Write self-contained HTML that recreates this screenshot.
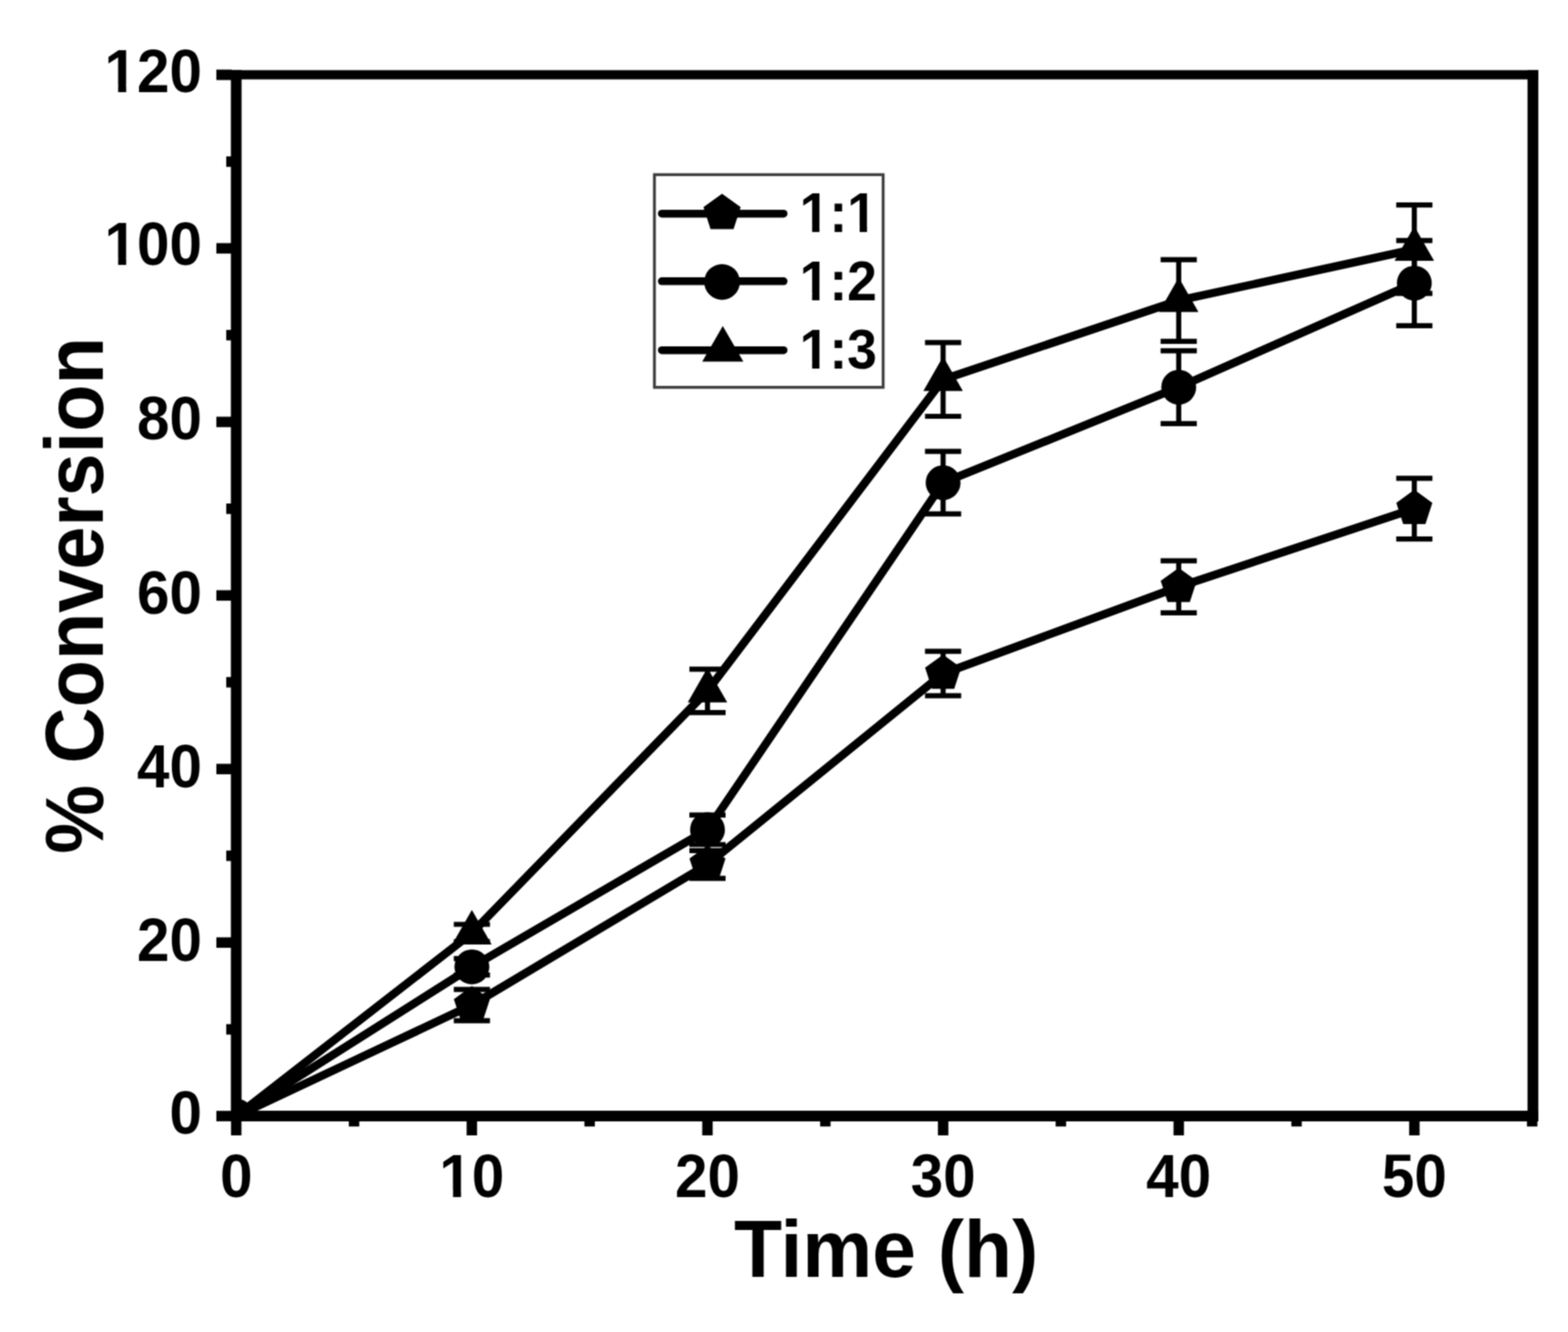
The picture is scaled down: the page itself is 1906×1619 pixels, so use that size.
<!DOCTYPE html>
<html><head><meta charset="utf-8"><title>% Conversion vs Time</title>
<style>
html,body{margin:0;padding:0;background:#fff;}
body{width:1906px;height:1619px;overflow:hidden;}
svg{display:block;}
text{font-family:"Liberation Sans",Arial,sans-serif;font-weight:bold;fill:#000;}
.tl{font-size:71px;}
.ax{font-size:95.6px;}
.ax2{font-size:94.2px;}
.lg{font-size:65px;}
</style></head>
<body>
<svg width="1906" height="1619" viewBox="0 0 1906 1619">
<defs><filter id="soft" x="0" y="0" width="1906" height="1619" filterUnits="userSpaceOnUse" color-interpolation-filters="sRGB"><feConvolveMatrix order="3" kernelMatrix="1 2 1 2 4 2 1 2 1" divisor="16" edgeMode="duplicate"/></filter></defs>
<g filter="url(#soft)">
<rect width="1906" height="1619" fill="#fff"/>
<g fill="#000">
<rect x="280.8" y="85.3" width="1589.1" height="11.2"/>
<rect x="280.8" y="1350.2" width="1589.1" height="12.8"/>
<rect x="280.8" y="85.3" width="12.6" height="1277.7"/>
<rect x="1856.8" y="85.3" width="13.1" height="1277.7"/>
<rect x="263" y="1350.2" width="18.8" height="12.7"/>
<rect x="275" y="1244.8" width="6.8" height="12.7"/>
<rect x="263" y="1139.3" width="18.8" height="12.7"/>
<rect x="275" y="1033.8" width="6.8" height="12.7"/>
<rect x="263" y="928.4" width="18.8" height="12.7"/>
<rect x="275" y="822.9" width="6.8" height="12.7"/>
<rect x="263" y="717.4" width="18.8" height="12.7"/>
<rect x="275" y="612.0" width="6.8" height="12.7"/>
<rect x="263" y="506.5" width="18.8" height="12.7"/>
<rect x="275" y="401.0" width="6.8" height="12.7"/>
<rect x="263" y="295.5" width="18.8" height="12.7"/>
<rect x="275" y="190.1" width="6.8" height="12.7"/>
<rect x="263" y="84.6" width="18.8" height="12.7"/>
<rect x="280.8" y="1362.0" width="12.7" height="18.0"/>
<rect x="424.0" y="1362.0" width="12.7" height="7.2"/>
<rect x="567.2" y="1362.0" width="12.7" height="18.0"/>
<rect x="710.4" y="1362.0" width="12.7" height="7.2"/>
<rect x="853.6" y="1362.0" width="12.7" height="18.0"/>
<rect x="996.9" y="1362.0" width="12.7" height="7.2"/>
<rect x="1140.1" y="1362.0" width="12.7" height="18.0"/>
<rect x="1283.2" y="1362.0" width="12.7" height="7.2"/>
<rect x="1426.5" y="1362.0" width="12.7" height="18.0"/>
<rect x="1569.7" y="1362.0" width="12.7" height="7.2"/>
<rect x="1712.9" y="1362.0" width="12.7" height="18.0"/>
<rect x="1856.1" y="1362.0" width="12.7" height="7.2"/>
<clipPath id="pc"><rect x="287.1" y="0" width="1600" height="1356.6"/></clipPath><g clip-path="url(#pc)">
<polyline points="287.2,1356.6 573.6,1221.6 860.0,1050.7 1146.4,818.7 1432.8,713.2 1719.2,618.3" fill="none" stroke="#000" stroke-width="10" stroke-linejoin="round"/>
<path d="M573.6 1202.6V1240.6M551.6 1202.6H595.6M551.6 1240.6H595.6" stroke="#000" stroke-width="6.2" fill="none"/>
<path d="M860.0 1033.9V1067.6M838.0 1033.9H882.0M838.0 1067.6H882.0" stroke="#000" stroke-width="6.2" fill="none"/>
<path d="M1146.4 791.7V845.7M1124.4 791.7H1168.4M1124.4 845.7H1168.4" stroke="#000" stroke-width="6.2" fill="none"/>
<path d="M1432.8 681.6V744.9M1410.8 681.6H1454.8M1410.8 744.9H1454.8" stroke="#000" stroke-width="6.2" fill="none"/>
<path d="M1719.2 581.4V655.2M1697.2 581.4H1741.2M1697.2 655.2H1741.2" stroke="#000" stroke-width="6.2" fill="none"/>
<polygon points="287.2,1333.6 309.1,1349.5 300.7,1375.2 273.7,1375.2 265.3,1349.5"/>
<polygon points="573.6,1198.6 595.5,1214.5 587.1,1240.2 560.1,1240.2 551.7,1214.5"/>
<polygon points="860.0,1027.7 881.9,1043.6 873.5,1069.3 846.5,1069.3 838.1,1043.6"/>
<polygon points="1146.4,795.7 1168.3,811.6 1159.9,837.3 1132.9,837.3 1124.5,811.6"/>
<polygon points="1432.8,690.2 1454.7,706.1 1446.3,731.8 1419.3,731.8 1410.9,706.1"/>
<polygon points="1719.2,595.3 1741.1,611.2 1732.7,636.9 1705.7,636.9 1697.3,611.2"/>
<polyline points="287.2,1356.6 573.6,1175.2 860.0,1008.5 1146.4,586.7 1432.8,470.7 1719.2,344.1" fill="none" stroke="#000" stroke-width="10" stroke-linejoin="round"/>
<path d="M573.6 1165.2V1185.2M551.6 1165.2H595.6M551.6 1185.2H595.6" stroke="#000" stroke-width="6.2" fill="none"/>
<path d="M860.0 990.6V1026.5M838.0 990.6H882.0M838.0 1026.5H882.0" stroke="#000" stroke-width="6.2" fill="none"/>
<path d="M1146.4 548.7V624.6M1124.4 548.7H1168.4M1124.4 624.6H1168.4" stroke="#000" stroke-width="6.2" fill="none"/>
<path d="M1432.8 426.4V514.9M1410.8 426.4H1454.8M1410.8 514.9H1454.8" stroke="#000" stroke-width="6.2" fill="none"/>
<path d="M1719.2 292.4V395.8M1697.2 292.4H1741.2M1697.2 395.8H1741.2" stroke="#000" stroke-width="6.2" fill="none"/>
<circle cx="287.2" cy="1356.6" r="21.2"/>
<circle cx="573.6" cy="1175.2" r="21.2"/>
<circle cx="860.0" cy="1008.5" r="21.2"/>
<circle cx="1146.4" cy="586.7" r="21.2"/>
<circle cx="1432.8" cy="470.7" r="21.2"/>
<circle cx="1719.2" cy="344.1" r="21.2"/>
<polyline points="287.2,1356.6 573.6,1134.1 860.0,839.8 1146.4,461.2 1432.8,365.2 1719.2,303.0" fill="none" stroke="#000" stroke-width="10" stroke-linejoin="round"/>
<path d="M573.6 1123.5V1144.6M551.6 1123.5H595.6M551.6 1144.6H595.6" stroke="#000" stroke-width="6.2" fill="none"/>
<path d="M860.0 813.4V866.2M838.0 813.4H882.0M838.0 866.2H882.0" stroke="#000" stroke-width="6.2" fill="none"/>
<path d="M1146.4 416.3V506.0M1124.4 416.3H1168.4M1124.4 506.0H1168.4" stroke="#000" stroke-width="6.2" fill="none"/>
<path d="M1432.8 315.6V414.8M1410.8 315.6H1454.8M1410.8 414.8H1454.8" stroke="#000" stroke-width="6.2" fill="none"/>
<path d="M1719.2 249.2V356.7M1697.2 249.2H1741.2M1697.2 356.7H1741.2" stroke="#000" stroke-width="6.2" fill="none"/>
<polygon points="287.2,1328.6 311.2,1370.6 263.2,1370.6"/>
<polygon points="573.6,1106.1 597.6,1148.1 549.6,1148.1"/>
<polygon points="860.0,811.8 884.0,853.8 836.0,853.8"/>
<polygon points="1146.4,433.2 1170.4,475.2 1122.4,475.2"/>
<polygon points="1432.8,337.2 1456.8,379.2 1408.8,379.2"/>
<polygon points="1719.2,275.0 1743.2,317.0 1695.2,317.0"/>
</g>
<rect x="280.8" y="1350.2" width="1589.1" height="12.8"/>
<rect x="280.8" y="85.3" width="12.6" height="1277.7"/>
<rect x="795.5" y="212.3" width="278" height="258.5" fill="#fff" stroke="#3c3c3c" stroke-width="3.5"/>
<line x1="804.5" y1="259.7" x2="952.5" y2="259.7" stroke="#000" stroke-width="9.5" stroke-linecap="round"/>
<polygon points="877.7,235.4 900.3,251.8 891.7,278.5 863.7,278.5 855.1,251.8"/>
<line x1="804.5" y1="341.8" x2="952.5" y2="341.8" stroke="#000" stroke-width="9.5" stroke-linecap="round"/>
<circle cx="877.7" cy="342.7" r="21.7"/>
<line x1="804.5" y1="425.7" x2="952.5" y2="425.7" stroke="#000" stroke-width="9.5" stroke-linecap="round"/>
<polygon points="878.6,396.3 903.6,439.6 853.6,439.6"/>
</g>
<text transform="translate(245.5 1377.5) scale(1 1.05)" text-anchor="end" class="tl">0</text>
<text transform="translate(245.5 1167.7) scale(1 1.05)" text-anchor="end" class="tl">20</text>
<text transform="translate(245.5 956.7) scale(1 1.05)" text-anchor="end" class="tl">40</text>
<text transform="translate(245.5 745.5) scale(1 1.05)" text-anchor="end" class="tl">60</text>
<text transform="translate(245.5 534.0) scale(1 1.05)" text-anchor="end" class="tl">80</text>
<text transform="translate(245.5 322.3) scale(1 1.05)" text-anchor="end" class="tl">100</text>
<text transform="translate(245.5 112.0) scale(1 1.05)" text-anchor="end" class="tl">120</text>
<text transform="translate(287.2 1455.4) scale(1 1.05)" text-anchor="middle" class="tl">0</text>
<text transform="translate(573.6 1455.4) scale(1 1.05)" text-anchor="middle" class="tl">10</text>
<text transform="translate(860.0 1455.4) scale(1 1.05)" text-anchor="middle" class="tl">20</text>
<text transform="translate(1146.4 1455.4) scale(1 1.05)" text-anchor="middle" class="tl">30</text>
<text transform="translate(1432.8 1455.4) scale(1 1.05)" text-anchor="middle" class="tl">40</text>
<text transform="translate(1719.2 1455.4) scale(1 1.05)" text-anchor="middle" class="tl">50</text>
<text transform="translate(1077.1 1552.3) scale(1 1.035)" text-anchor="middle" class="ax">Time (h)</text>
<text transform="translate(125 723.8) rotate(-90) scale(1 1.06)" text-anchor="middle" class="ax2">% Conversion</text>
<text transform="translate(972 282.2) scale(1 1.06)" class="lg">1:1</text>
<text transform="translate(972 364.6) scale(1 1.06)" class="lg">1:2</text>
<text transform="translate(972 447.7) scale(1 1.06)" class="lg">1:3</text>
<g fill="#fff"><rect x="130.3" y="313.5" width="13.3" height="10.3"/><rect x="153.4" y="313.5" width="12.4" height="10.3"/><rect x="130.3" y="103.2" width="13.3" height="10.3"/><rect x="153.4" y="103.2" width="12.4" height="10.3"/><rect x="537.4" y="1446.6" width="13.3" height="10.3"/><rect x="560.4" y="1446.6" width="12.4" height="10.3"/><rect x="974.9" y="274.0" width="12.3" height="9.7"/><rect x="996.1" y="274.0" width="11.5" height="9.7"/><rect x="1032.7" y="274.0" width="12.3" height="9.7"/><rect x="1053.9" y="274.0" width="11.5" height="9.7"/><rect x="974.9" y="356.4" width="12.3" height="9.7"/><rect x="996.1" y="356.4" width="11.5" height="9.7"/><rect x="974.9" y="439.5" width="12.3" height="9.7"/><rect x="996.1" y="439.5" width="11.5" height="9.7"/></g>
</g>
</svg>
</body></html>
